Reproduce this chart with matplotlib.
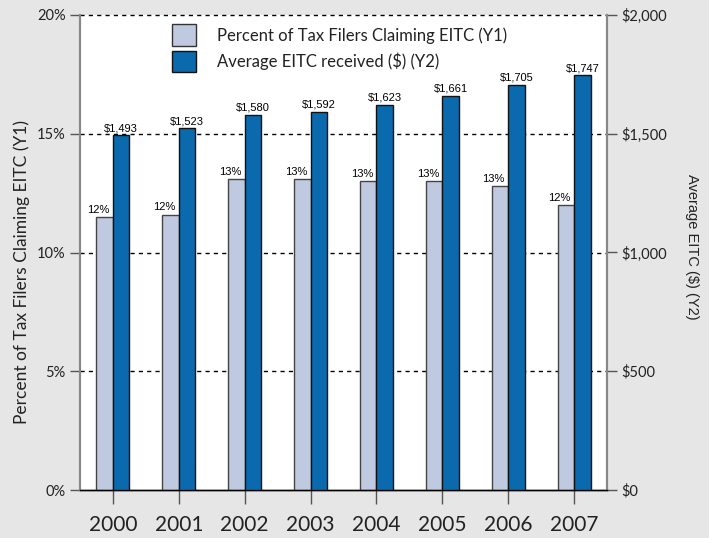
import matplotlib
matplotlib.use("Agg")
import matplotlib.pyplot as plt
from matplotlib.patches import Patch

years = ["2000", "2001", "2002", "2003", "2004", "2005", "2006", "2007"]
pct_values = [11.5, 11.6, 13.1, 13.1, 13.0, 13.0, 12.8, 12.0]
pct_labels = ["12%", "12%", "13%", "13%", "13%", "13%", "13%", "12%"]
eitc_values = [1493, 1523, 1580, 1592, 1623, 1661, 1705, 1747]
eitc_labels = ["$1,493", "$1,523", "$1,580", "$1,592", "$1,623", "$1,661", "$1,705", "$1,747"]
y1_ticks = [0, 5, 10, 15, 20]
y1_ticklabels = ["0%", "5%", "10%", "15%", "20%"]
y2_ticks = [0, 500, 1000, 1500, 2000]
y2_ticklabels = ["$0", "$500", "$1,000", "$1,500", "$2,000"]

FONT = ["Lato", "DejaVu Sans"]
BG = "#e6e6e6"
LIGHT = "#bfcae0"
BLUE = "#0a6aad"
TXT = "#222222"

fig = plt.figure(figsize=(7.09, 5.38), dpi=100, facecolor=BG)
ax = fig.add_axes([80/709, 1-490/538, 527/709, 475/538])
ax.set_facecolor("white")
ax2 = ax.twinx()

x = list(range(len(years)))
w = 0.25
xl = [i - w/2 for i in x]
xr = [i + w/2 for i in x]

ax.bar(xl, pct_values, width=w, color=LIGHT, edgecolor="#444444", linewidth=1, zorder=3)
ax2.bar(xr, eitc_values, width=w, color=BLUE, edgecolor="#111111", linewidth=1, zorder=3)

ax.set_xlim(-0.5, 7.5)
ax.set_ylim(0, 20)
ax2.set_ylim(0, 2000)

for xi, v, lab in zip(xl, pct_values, pct_labels):
    ax.annotate(lab, (xi, v), xytext=(-4.5, 1.5), textcoords="offset points",
                ha="center", va="bottom", fontsize=8, family="Liberation Sans", zorder=5)
for xi, v, lab in zip(xr, eitc_values, eitc_labels):
    ax2.annotate(lab, (xi, v), xytext=(0, 1.5), textcoords="offset points",
                 ha="center", va="bottom", fontsize=8, family="Liberation Sans", zorder=5)

for t in y1_ticks[1:]:
    ax.axhline(t, color="black", linestyle=(0, (3, 3)), linewidth=1, zorder=1, clip_on=False)

ax.set_yticks(y1_ticks)
ax.set_yticklabels(y1_ticklabels, family=FONT, fontsize=10.5, color=TXT)
ax2.set_yticks(y2_ticks)
ax2.set_yticklabels(y2_ticklabels, family=FONT, fontsize=10.5, color=TXT)
ax.set_xticks(x)
ax.set_xticklabels(years, family=FONT, fontsize=15, color=TXT)

ax.tick_params(axis="y", length=7.2, width=1, color="#555555", pad=3)
ax2.tick_params(axis="y", length=7.2, width=1, color="#555555", pad=3)
ax.tick_params(axis="x", length=10, width=1, color="#555555", pad=8)

for a in (ax, ax2):
    a.spines["top"].set_visible(False)
    a.spines["left"].set_color("#888888")
    a.spines["left"].set_linewidth(1.5)
    a.spines["right"].set_color("#888888")
    a.spines["right"].set_linewidth(1.5)
    a.spines["bottom"].set_color("black")
    a.spines["bottom"].set_linewidth(1)

ax.set_ylabel("Percent of Tax Filers Claiming EITC (Y1)", family=FONT, fontsize=12.5, color=TXT,
              va="center")
ax.yaxis.set_label_coords((22-80)/527, (490-272)/475)
ax2.set_ylabel("Average EITC ($) (Y2)", family="Liberation Sans", fontsize=10.5, color=TXT,
               rotation=-90, va="center")
ax2.yaxis.set_label_coords((692-80)/527, (490-247)/475)

handles = [Patch(facecolor=LIGHT, edgecolor="#333333", linewidth=1),
           Patch(facecolor=BLUE, edgecolor="#111111", linewidth=1)]
ax.legend(handles, ["Percent of Tax Filers Claiming EITC (Y1)", "Average EITC received ($) (Y2)"],
          loc="upper left", bbox_to_anchor=((164-80)/527, (490-16)/475),
          frameon=False, prop={"family": FONT, "size": 12},
          handlelength=1.4, handleheight=1.6, handletextpad=1.3, labelspacing=0.3,
          labelcolor=TXT, borderaxespad=0, borderpad=0.5)

fig.savefig("out.png", dpi=100, facecolor=BG)
